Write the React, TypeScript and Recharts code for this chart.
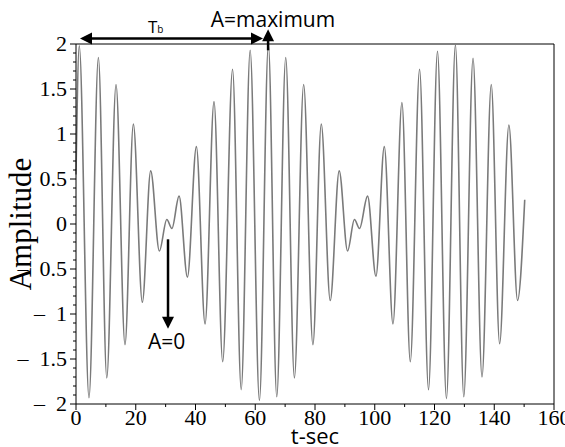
import React from 'react';
import { LineChart, Line, XAxis, YAxis, ReferenceLine, ReferenceDot, Label } from 'recharts';

// Extrema / end points
const tSec = [
  0, 1.1, 4.35, 7.5, 10.3, 13.4, 16.4, 19.2, 22.2, 25.0,
  27.9, 30.4, 32.1, 34.5, 37.3, 40.3, 43.2, 46.2, 49.1, 52.4,
  55.3, 58.3, 61.4, 64.4, 67.2, 70.2, 73.1, 76.2, 79.3, 82.1,
  85.1, 88.1, 90.9, 93.2, 94.9, 97.6, 100.4, 103.2, 106.1, 109.1,
  111.9, 115.0, 118.0, 121.0, 124.0, 127.0, 129.8, 132.9, 135.9, 139.0,
  141.8, 144.9, 147.8, 150.2,
];
const amplitude = [
  0.55, 1.98, -1.93, 1.85, -1.71, 1.55, -1.34, 1.11, -0.87, 0.59,
  -0.30, 0.05, -0.05, 0.31, -0.59, 0.86, -1.11, 1.36, -1.53, 1.72,
  -1.84, 1.93, -1.96, 1.99, -1.92, 1.85, -1.71, 1.55, -1.34, 1.11,
  -0.85, 0.59, -0.30, 0.05, -0.05, 0.31, -0.58, 0.86, -1.11, 1.35,
  -1.53, 1.72, -1.84, 1.92, -1.94, 1.99, -1.92, 1.84, -1.70, 1.55,
  -1.33, 1.10, -0.85, 0.27,
];

const xMajorTicks = [0, 20, 40, 60, 80, 100, 120, 140, 160];
const xMinorTicks = [10, 30, 50, 70, 90, 110, 130, 150];
const yMajorTicks = [-2, -1.5, -1, -0.5, 0, 0.5, 1, 1.5, 2];
const yMinorTicks = [
  -1.9, -1.8, -1.7, -1.6, -1.4, -1.3, -1.2, -1.1, -0.9, -0.8, -0.7, -0.6, -0.4, -0.3, -0.2, -0.1,
  0.1, 0.2, 0.3, 0.4, 0.6, 0.7, 0.8, 0.9, 1.1, 1.2, 1.3, 1.4, 1.6, 1.7, 1.8, 1.9,
];

// Annotation anchors (data coordinates)
const beatArrow = [{ x: 1.34, y: 2.062 }, { x: 62.6, y: 2.062 }];
const maxArrow = [{ x: 64.3, y: 1.93 }, { x: 64.3, y: 2.165 }];
const zeroArrow = [{ x: 30.8, y: -0.17 }, { x: 30.8, y: -1.165 }];
const beatLabelPos = { x: 24.1, y: 2.12 };
const maxLabelPos = { x: 45.1, y: 2.19 };
const zeroLabelPos = { x: 24.1, y: -1.386 };

const data = tSec.map((t, i) => ({ t, a: amplitude[i] }));
const xTicks = [...xMajorTicks, ...xMinorTicks].sort((a, b) => a - b);
const yTicks = [...yMajorTicks, ...yMinorTicks].sort((a, b) => a - b);

const SERIF = "'Liberation Serif', 'Times New Roman', Times, serif";
const SANS = "'Open Sans', 'Noto Sans', sans-serif";

const fmtY = (v: number) => (v < 0 ? '\u2013\u2002' + String(Math.abs(v)) : String(v));

const XTick = (props: any) => {
  const { x, y, payload } = props;
  const major = xMajorTicks.includes(payload.value);
  return (
    <g>
      <line x1={x} y1={y} x2={x} y2={y + (major ? 6 : 3)} stroke="#000" strokeWidth={1} />
      {major && (
        <text x={x} y={y + 21} textAnchor="middle" fontFamily={SERIF} style={{ fontFamily: SERIF, fontSize: 22 }} fill="#000">
          {payload.value}
        </text>
      )}
    </g>
  );
};

const YTick = (props: any) => {
  const { x, y, payload } = props;
  const major = yMajorTicks.includes(payload.value);
  return (
    <g>
      <line x1={x} y1={y} x2={x - (major ? 6 : 3)} y2={y} stroke="#000" strokeWidth={1} />
      {major && (
        <text x={x - 9} y={y} dy="0.33em" textAnchor="end" fontFamily={SERIF} style={{ fontFamily: SERIF, fontSize: 22 }} fill="#000">
          {fmtY(payload.value)}
        </text>
      )}
    </g>
  );
};

const arrowHead = (tx: number, ty: number, fx: number, fy: number) => {
  const dx = tx - fx;
  const dy = ty - fy;
  const len = Math.sqrt(dx * dx + dy * dy) || 1;
  const ux = dx / len;
  const uy = dy / len;
  const L = 12;
  const W = 6;
  const bx = tx - ux * L;
  const by = ty - uy * L;
  return `${tx},${ty} ${bx - uy * W},${by + ux * W} ${bx + uy * W},${by - ux * W}`;
};

const makeArrow = (both: boolean) => (p: any) => {
  const { x1, y1, x2, y2 } = p;
  const dx = x2 - x1;
  const dy = y2 - y1;
  const len = Math.sqrt(dx * dx + dy * dy) || 1;
  const sx = both ? x1 + (dx / len) * 10 : x1;
  const sy = both ? y1 + (dy / len) * 10 : y1;
  const ex = x2 - (dx / len) * 10;
  const ey = y2 - (dy / len) * 10;
  return (
    <g>
      <line x1={sx} y1={sy} x2={ex} y2={ey} stroke="#000" strokeWidth={2.5} />
      <polygon points={arrowHead(x2, y2, x1, y1)} fill="#000" />
      {both && <polygon points={arrowHead(x1, y1, x2, y2)} fill="#000" />}
    </g>
  );
};

const textShape = (content: React.ReactNode) => (p: any) => (
  <text x={p.cx} y={p.cy} style={{ fontFamily: SANS, fontSize: 21 }} fill="#000">
    {content}
  </text>
);

export default function App() {
  return (
    <div style={{ position: 'absolute', left: 0, top: 0, width: 565, height: 447, background: '#fff' }}>
      <LineChart
        width={565}
        height={447}
        data={data}
        margin={{ top: 44, right: 11, bottom: 13, left: 16 }}
      >
        <XAxis
          type="number"
          dataKey="t"
          domain={[0, 160]}
          ticks={xTicks}
          interval={0}
          tickSize={0}
          tickMargin={0}
          tickLine={false}
          axisLine={{ stroke: '#000', strokeWidth: 1 }}
          tick={XTick}
          height={30}
        >
          <Label
            content={(p: any) => {
              const vb = p.viewBox || { x: 76, y: 404, width: 478, height: 30 };
              return (
                <text x={vb.x + vb.width / 2} y={vb.y + 40} textAnchor="middle" style={{ fontFamily: SANS, fontSize: 22 }} fill="#000">
                  t-sec
                </text>
              );
            }}
          />
        </XAxis>
        <YAxis
          type="number"
          domain={[-2, 2]}
          ticks={yTicks}
          interval={0}
          tickSize={0}
          tickMargin={0}
          tickLine={false}
          axisLine={{ stroke: '#000', strokeWidth: 1 }}
          tick={YTick}
          width={60}
        >
          <Label
            content={(p: any) => {
              const vb = p.viewBox || { x: 16, y: 44, width: 60, height: 360 };
              const cx = vb.x + 15;
              const cy = vb.y + vb.height / 2;
              return (
                <text
                  x={cx}
                  y={cy}
                  transform={`rotate(-90, ${cx}, ${cy})`}
                  textAnchor="middle"
                  style={{ fontFamily: SERIF, fontSize: 31 }}
                  fill="#000"
                >
                  Amplitude
                </text>
              );
            }}
          />
        </YAxis>
        <ReferenceLine y={2} stroke="#000" strokeWidth={1} />
        <ReferenceLine x={160} stroke="#000" strokeWidth={1} />
        <Line
          type="monotone"
          dataKey="a"
          stroke="#7a7a7a"
          strokeWidth={1.6}
          dot={false}
          isAnimationActive={false}
        />
        <ReferenceLine segment={beatArrow} ifOverflow="visible" shape={makeArrow(true)} />
        <ReferenceLine segment={maxArrow} ifOverflow="visible" shape={makeArrow(false)} />
        <ReferenceLine segment={zeroArrow} ifOverflow="visible" shape={makeArrow(false)} />
        <ReferenceDot
          x={beatLabelPos.x}
          y={beatLabelPos.y}
          ifOverflow="visible"
          shape={textShape(
            <>
              <tspan fontSize={17}>T</tspan>
              <tspan fontSize={10}>b</tspan>
            </>
          )}
        />
        <ReferenceDot x={maxLabelPos.x} y={maxLabelPos.y} ifOverflow="visible" shape={textShape('A=maximum')} />
        <ReferenceDot x={zeroLabelPos.x} y={zeroLabelPos.y} ifOverflow="visible" shape={textShape('A=0')} />
      </LineChart>
    </div>
  );
}
